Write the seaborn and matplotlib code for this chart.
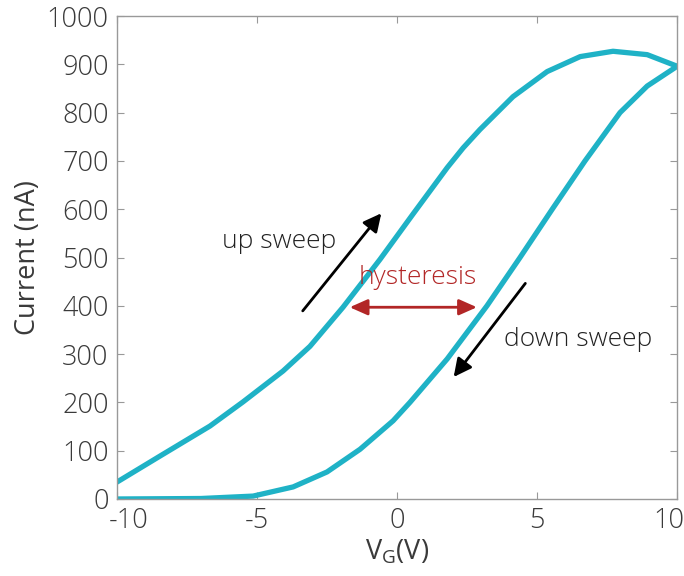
import matplotlib
matplotlib.use("Agg")
import matplotlib.pyplot as plt
import matplotlib.transforms as mtrans
import seaborn as sns
import pandas as pd

# Up sweep (upper branch), gate voltage V and current nA
up_v = [-10.0, -8.46, -6.68, -5.5, -4.07, -3.11, -1.93, -0.61, 0.57, 1.79, 2.36, 2.96, 4.14, 5.36, 6.54, 7.71, 8.93, 10.0]
up_i = [35, 89, 151, 201, 265, 316, 397, 496, 590, 686, 727, 765, 833, 885, 916, 927, 920, 896]
# Down sweep (lower branch)
down_v = [10.0, 8.93, 7.96, 6.71, 5.54, 4.39, 3.21, 1.79, 0.46, -0.14, -1.32, -2.5, -3.71, -5.14, -7.0, -10.0]
down_i = [896, 855, 800, 700, 600, 500, 400, 290, 200, 162, 103, 56, 25, 6, 1, 0]

xticks = [-10, -5, 0, 5, 10]
xticklabels = ["-10", "-5", "0", "5", "10"]
yticks = [0, 100, 200, 300, 400, 500, 600, 700, 800, 900, 1000]

sns.set_theme(style="white")
plt.rcParams['font.family'] = ['Open Sans', 'DejaVu Sans']
plt.rcParams['font.weight'] = 'light'

fig = plt.figure(figsize=(6.84, 5.76), dpi=100)
ax = fig.add_axes([0.171, 0.1337, 0.819, 0.8385])

color = "#1fb2c6"
df_up = pd.DataFrame({"V": up_v, "I": up_i})
df_down = pd.DataFrame({"V": down_v, "I": down_i})
sns.lineplot(data=df_up, x="V", y="I", sort=False, color=color, lw=3.8, ax=ax,
             solid_joinstyle="round", solid_capstyle="round")
sns.lineplot(data=df_down, x="V", y="I", sort=False, color=color, lw=3.8, ax=ax,
             solid_joinstyle="round", solid_capstyle="round")

ax.set_xlim(-10, 10)
ax.set_ylim(0, 1000)
ax.set_xticks(xticks)
ax.set_xticklabels(xticklabels)
ax.set_yticks(yticks)

txtc = "#3a3a3a"
ax.tick_params(direction="in", length=5, width=0.8, color="#999999",
               labelsize=19.5, labelcolor=txtc, top=True, right=True,
               bottom=True, left=True, pad=6)
for s in ax.spines.values():
    s.set_color("#999999")
    s.set_linewidth(1.0)

labs = ax.get_xticklabels()
labs[0].set_transform(labs[0].get_transform() + mtrans.ScaledTranslation(0.12, 0, fig.dpi_scale_trans))
labs[-1].set_transform(labs[-1].get_transform() + mtrans.ScaledTranslation(-0.08, 0, fig.dpi_scale_trans))

ax.set_xlabel(r"V$_\mathregular{G}$(V)", fontsize=19.5, color=txtc, labelpad=2)
ax.set_ylabel("Current (nA)", fontsize=19.5, color=txtc, labelpad=3)

# annotations
fs = 19
ax.text(-4.2, 534, "up sweep", fontsize=fs, color="#222222", ha="center", va="center")
ax.annotate("", xy=(-0.5, 596), xytext=(-3.43, 385),
            arrowprops=dict(arrowstyle="-|>,head_length=0.9,head_width=0.45", color="black", lw=2))
ax.text(0.75, 459, "hysteresis", fontsize=fs, color="#b22626", ha="center", va="center")
ax.annotate("", xy=(2.95, 397), xytext=(-1.79, 397),
            arrowprops=dict(arrowstyle="<|-|>,head_length=0.9,head_width=0.4", color="#b22626", lw=2))
ax.text(6.45, 331, "down sweep", fontsize=fs, color="#222222", ha="center", va="center")
ax.annotate("", xy=(1.96, 248), xytext=(4.64, 451),
            arrowprops=dict(arrowstyle="-|>,head_length=0.9,head_width=0.45", color="black", lw=2))

fig.savefig("out.png", dpi=100)
